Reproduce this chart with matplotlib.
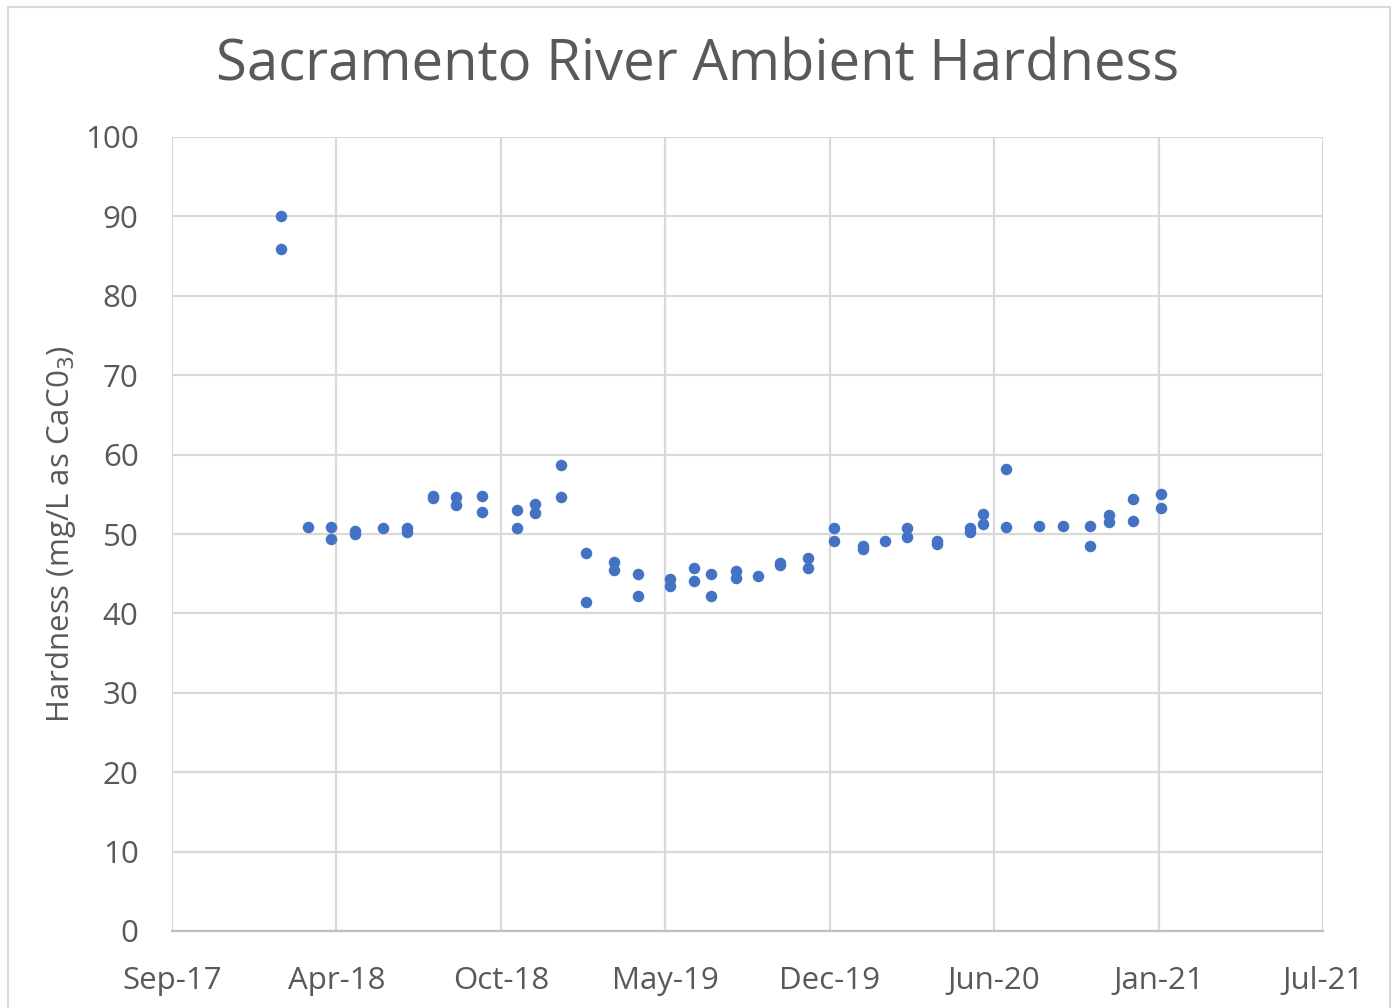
import matplotlib
matplotlib.use("Agg")
import matplotlib.pyplot as plt
import matplotlib.dates as mdates
from matplotlib.patches import Rectangle
import numpy as np
import datetime as dt

# ---- data ----
dates = [
    "2018-02-03", "2018-02-03",
    "2018-03-08",
    "2018-04-05", "2018-04-05",
    "2018-05-04", "2018-05-04",
    "2018-06-08",
    "2018-07-07", "2018-07-07",
    "2018-08-08", "2018-08-08",
    "2018-09-05", "2018-09-05",
    "2018-10-06", "2018-10-06",
    "2018-11-18", "2018-11-18",
    "2018-12-09", "2018-12-09",
    "2019-01-10", "2019-01-10",
    "2019-02-09", "2019-02-09",
    "2019-03-16", "2019-03-16",
    "2019-04-14", "2019-04-14",
    "2019-05-23", "2019-05-23",
    "2019-06-21", "2019-06-21",
    "2019-07-12", "2019-07-12",
    "2019-08-11", "2019-08-11",
    "2019-09-07",
    "2019-10-04", "2019-10-04",
    "2019-11-06", "2019-11-06",
    "2019-12-08", "2019-12-08",
    "2020-01-12", "2020-01-12",
    "2020-02-08",
    "2020-03-06", "2020-03-06",
    "2020-04-11", "2020-04-11",
    "2020-05-22", "2020-05-22",
    "2020-06-07", "2020-06-07",
    "2020-07-05", "2020-07-05",
    "2020-08-14",
    "2020-09-12",
    "2020-10-14", "2020-10-14",
    "2020-11-07", "2020-11-07",
    "2020-12-06", "2020-12-06",
    "2021-01-09", "2021-01-09",
]
hardness = [
    90.0, 85.9,
    50.9,
    50.9, 49.4,
    50.4, 50.0,
    50.7,
    50.8, 50.3,
    54.8, 54.5,
    54.6, 53.6,
    54.8, 52.8,
    53.0, 50.8,
    53.8, 52.7,
    58.65, 54.7,
    47.6, 41.4,
    46.5, 45.5,
    45.0, 42.2,
    44.3, 43.4,
    45.75, 44.1,
    44.9, 42.2,
    45.4, 44.5,
    44.75,
    46.4, 46.1,
    47.0, 45.7,
    50.7, 49.15,
    48.5, 48.15,
    49.15,
    50.7, 49.6,
    49.1, 48.8,
    50.8, 50.2,
    52.5, 51.25,
    58.2, 50.9,
    51.0,
    51.0,
    51.0, 48.45,
    52.4, 51.55,
    54.45, 51.7,
    55.1, 53.25,
]

title = "Sacramento River Ambient Hardness"
ylabel = "Hardness (mg/L as CaC0$_3$)"
axis_start = "2017-09-24"
axis_step_days = 200
n_steps = 7

# ---- plot ----
plt.rcParams['font.family'] = ['Open Sans', 'DejaVu Sans']
W, H = 1394, 1008
fig = plt.figure(figsize=(W / 100, H / 100), dpi=100)
fig.patch.set_facecolor("white")

# outer chart border
fig.patches.append(Rectangle((8 / W, -0.05), (1390 - 8) / W, (H - 7) / H + 0.05,
                             transform=fig.transFigure, fill=False,
                             edgecolor="#D9D9D9", linewidth=1.5))

ax = fig.add_axes([172 / W, 1 - 931 / H, (1323 - 172) / W, (931 - 137) / H])

x = [dt.datetime.strptime(d, "%Y-%m-%d") for d in dates]
ax.plot(x, hardness, linestyle="none", marker="o", markersize=8.3,
        color="#4472C4", markeredgewidth=0, zorder=3)

start = dt.datetime.strptime(axis_start, "%Y-%m-%d")
ticks = [start + dt.timedelta(days=axis_step_days * i) for i in range(n_steps + 1)]
ax.set_xlim(ticks[0], ticks[-1])
ax.set_xticks(ticks)
ax.xaxis.set_major_formatter(mdates.DateFormatter("%b-%y"))
ax.set_ylim(0, 100)
ax.set_yticks(range(0, 101, 10))

ax.grid(True, color="#D9D9D9", linewidth=1.6, zorder=0)
ax.set_axisbelow(True)
for s in ["top", "right", "left"]:
    ax.spines[s].set_visible(False)
ax.spines["bottom"].set_color("#BFBFBF")
ax.spines["bottom"].set_linewidth(1.6)
ax.tick_params(axis="both", length=0, labelsize=22.5, labelcolor="#595959")
ax.tick_params(axis="y", pad=24)
ax.tick_params(axis="x", pad=25)

ax.set_ylabel(ylabel, fontsize=22.5, color="#595959", labelpad=5)
fig.text(698 / W, 1 - 66 / H, title, fontsize=40.5, color="#595959",
         ha="center", va="center")

fig.savefig("out.png", dpi=100)
